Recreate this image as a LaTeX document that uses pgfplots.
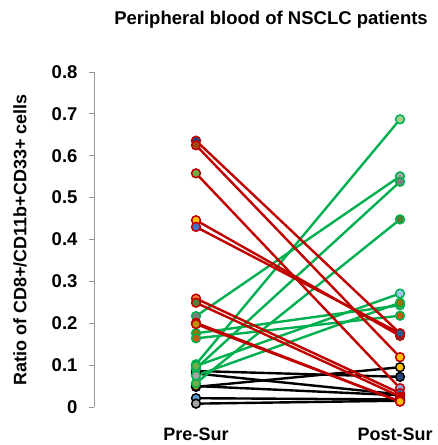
\documentclass[border=0pt]{standalone}
\usepackage{pgfplots}
\pgfplotsset{compat=1.18}
\usepackage{graphicx}
\usepackage{fontspec}
\setmainfont{Liberation Sans}
\definecolor{lred}{HTML}{C00000}
\definecolor{lgrn}{HTML}{00B050}
\definecolor{lblk}{HTML}{000000}
\definecolor{dblue}{HTML}{264478}
\definecolor{brown}{HTML}{9E480E}
\definecolor{green}{HTML}{70AD47}
\definecolor{gold}{HTML}{FFC000}
\definecolor{blue}{HTML}{4472C4}
\definecolor{orange}{HTML}{ED7D31}
\definecolor{dgreen}{HTML}{548235}
\definecolor{dorange}{HTML}{C55A11}
\definecolor{dgold}{HTML}{BF9000}
\definecolor{dgray}{HTML}{636363}
\definecolor{lgreen}{HTML}{A9D18E}
\definecolor{gray}{HTML}{A5A5A5}
\definecolor{mgray}{HTML}{7F7F7F}
\definecolor{olive}{HTML}{997300}
\definecolor{lblue}{HTML}{9DC3E6}
\definecolor{mblue}{HTML}{5B9BD5}
\definecolor{navy}{HTML}{255E91}
\definecolor{pblue}{HTML}{8FAADC}
\definecolor{mred}{HTML}{A50021}
% \pat{line colour}{pre}{pre fill}{post}{post fill}
\newcommand{\patline}[5]{\addplot[#1, line width=2.4pt, no marks] coordinates {(0,#2) (1,#4)};}
\newcommand{\patmark}[5]{%
\addplot[only marks, mark=*, mark size=4.4pt, mark options={draw=#1, fill=#3, line width=1.5pt}] coordinates {(0,#2)};
\addplot[only marks, mark=*, mark size=4.4pt, mark options={draw=#1, fill=#5, line width=1.5pt}] coordinates {(1,#4)};}
\def\patients{%
\pat{lblk}{0.086}{dblue}{0.072}{dblue}
\pat{lblk}{0.080}{gray}{0.030}{dblue}
\pat{lblk}{0.048}{gold}{0.095}{gold}
\pat{lblk}{0.050}{dgold}{0.028}{lblk}
\pat{lblk}{0.021}{mblue}{0.018}{lblk}
\pat{lblk}{0.008}{gray}{0.015}{gray}
\pat{lgrn}{0.102}{dgray}{0.687}{lgreen}
\pat{lgrn}{0.217}{mgray}{0.551}{gray}
\pat{lgrn}{0.092}{lgreen}{0.538}{mgray}
\pat{lgrn}{0.057}{green}{0.448}{dgreen}
\pat{lgrn}{0.098}{green}{0.271}{lblue}
\pat{lgrn}{0.176}{olive}{0.243}{green}
\pat{lgrn}{0.164}{dorange}{0.218}{dorange}
\pat{lgrn}{0.075}{gray}{0.249}{olive}
\pat{lred}{0.636}{dblue}{0.176}{mred}
\pat{lred}{0.625}{brown}{0.119}{gold}
\pat{lred}{0.558}{green}{0.045}{pblue}
\pat{lred}{0.446}{gold}{0.170}{navy}
\pat{lred}{0.430}{blue}{0.176}{navy}
\pat{lred}{0.259}{orange}{0.033}{blue}
\pat{lred}{0.249}{dgreen}{0.025}{lred}
\pat{lred}{0.201}{dorange}{0.013}{orange}
\pat{lred}{0.198}{dgold}{0.013}{gold}
}
\begin{document}
\begin{tikzpicture}
\begin{axis}[name=ax,
  scale only axis, width=336pt, height=335pt,
  xmin=-0.5, xmax=1.147, ymin=0, ymax=0.8,
  clip=false,
  axis y line*=left, axis x line*=bottom,
  x axis line style={draw=none},
  y axis line style={draw=gray!90!black, line width=0.9pt, -},
  xtick={0,1}, xticklabels={Pre-Sur,\kern-10pt Post-Sur},
  xtick style={draw=none},
  ytick={0,0.1,0.2,0.3,0.4,0.5,0.6,0.7,0.8},
  yticklabels={0,0.1,0.2,0.3,0.4,0.5,0.6,0.7,0.8},
  tick align=outside, major tick length=5pt,
  ytick style={draw=gray!90!black, line width=0.9pt},
  yticklabel style={font=\bfseries\fontsize{18.5}{18.5}\selectfont, xshift=-8pt},
  xticklabel style={font=\bfseries\fontsize{18}{18}\selectfont, yshift=-12pt},
]
\let\pat\patline \patients
\let\pat\patmark \patients
\end{axis}
\node[font=\bfseries\fontsize{18.5}{18.5}\selectfont] at ([shift={(177pt,387pt)}]ax.south west) {Peripheral blood of NSCLC patients};
\node[font=\bfseries\fontsize{18}{18}\selectfont, inner sep=0pt] at ([shift={(-74pt,167pt)}]ax.south west) {\rotatebox{90}{Ratio of CD8+/CD11b+CD33+ cells}};
\pgfresetboundingbox
\path ([shift={(-94pt,-38pt)}]ax.south west) rectangle ([shift={(343pt,407pt)}]ax.south west);
\end{tikzpicture}
\end{document}
